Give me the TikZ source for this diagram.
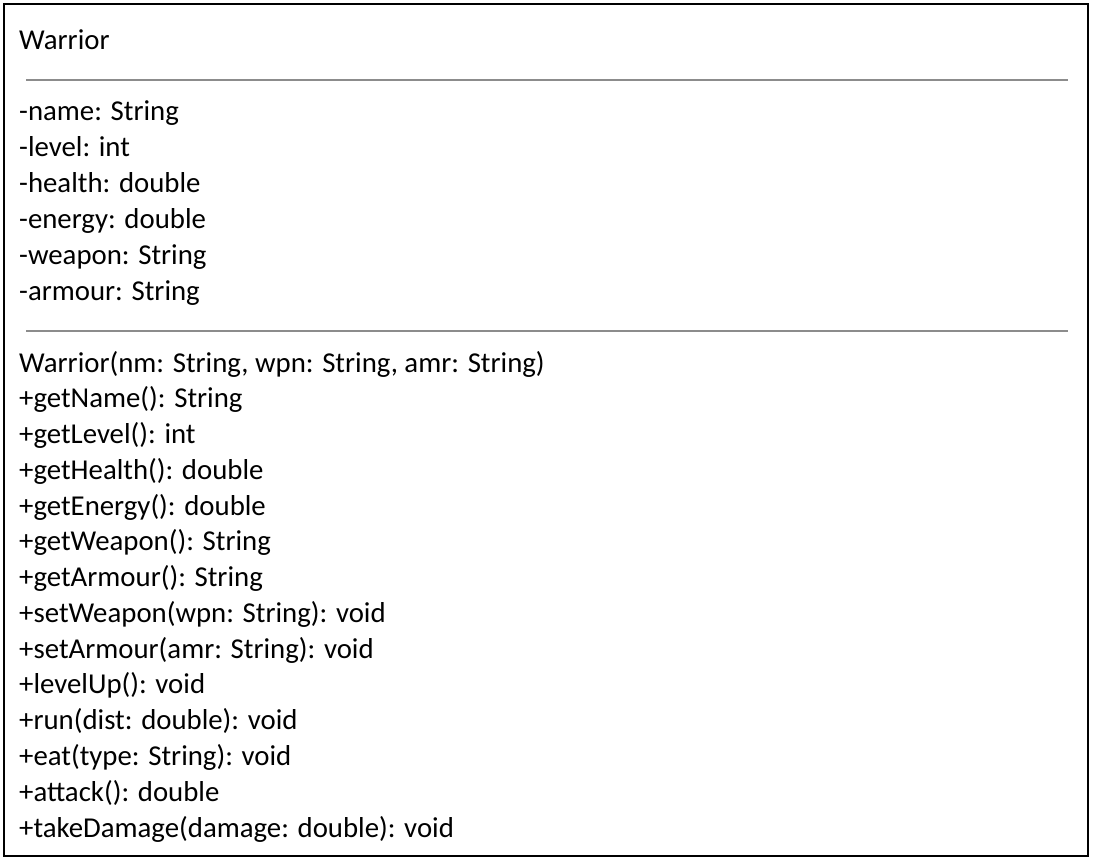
\documentclass[tikz,border=0pt]{standalone}
\usepackage{fontspec}
\setmainfont{Carlito}
\begin{document}
\begin{tikzpicture}[x=1pt,y=-1pt,
  txt/.style={anchor=base west,inner sep=0pt,font=\fontsize{28.8}{34}\selectfont},
  sep/.style={draw=sepgray,line width=2pt},
  frame/.style={draw=black,line width=2.2pt}]
\definecolor{sepgray}{HTML}{8C8C8C}
\useasboundingbox (0,0) rectangle (1094,862);
\draw[frame] (4,4) rectangle (1088,856);
\draw[sep] (26,80) -- (1068,80);
\draw[sep] (26,331) -- (1068,331);
\node[txt] (title) at (19,49) {Warrior};
\foreach \t [count=\i from 0] in {-name: String,-level: int,-health: double,-energy: double,-weapon: String,-armour: String}
  \node[txt] (a\i) at (19,120+36*\i) {\t};
\foreach \t [count=\i from 0] in {{Warrior(nm: String, wpn: String, amr: String)},+getName(): String,+getLevel(): int,+getHealth(): double,+getEnergy(): double,+getWeapon(): String,+getArmour(): String,{+setWeapon(wpn: String): void},{+setArmour(amr: String): void},+levelUp(): void,{+run(dist: double): void},{+eat(type: String): void},+attack(): double,{+takeDamage(damage: double): void}}
  \node[txt] (m\i) at (19,372+35.77*\i) {\t};
\end{tikzpicture}
\end{document}
